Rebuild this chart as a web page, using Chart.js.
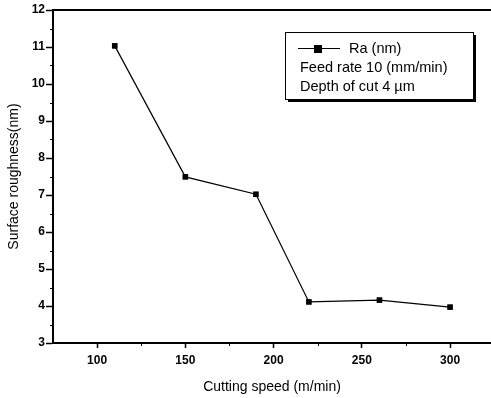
<!DOCTYPE html>
<html>
<head>
<meta charset="utf-8">
<script src="https://cdn.jsdelivr.net/npm/chart.js@4.4.0/dist/chart.umd.min.js"></script>
<style>
html,body{margin:0;padding:0;background:#fff;}
#wrap{width:491px;height:398px;}
</style>
</head>
<body>
<div id="wrap"><canvas id="c" width="491" height="398"></canvas></div>
<script>
const cuttingSpeed = [110, 150, 190, 220, 260, 300];
const roughness = [11.03, 7.49, 7.02, 4.11, 4.16, 3.97];
const xTickValues = [100, 150, 200, 250, 300];
const xMinorValues = [75, 125, 175, 225, 275, 325];
const yTickValues = [3, 4, 5, 6, 7, 8, 9, 10, 11, 12];
const seriesLabel = 'Ra (nm)';
const noteLines = ['Feed rate 10 (mm/min)', 'Depth of cut 4 \u00b5m'];

const FONT = '"Liberation Sans", Arial, sans-serif';

const frame = {
  id: 'frame',
  afterDraw(chart) {
    const {ctx, chartArea: a, scales: {x, y}} = chart;
    ctx.save();
    ctx.strokeStyle = '#000';
    ctx.lineWidth = 2;
    ctx.beginPath();
    ctx.moveTo(a.left, a.top);
    ctx.lineTo(a.right, a.top);
    ctx.stroke();
    // minor ticks
    ctx.lineWidth = 1;
    ctx.beginPath();
    xMinorValues.forEach(v => {
      const px = Math.round(x.getPixelForValue(v)) + 0.5;
      if (px < a.left + 2 || px > a.right) return;
      ctx.moveTo(px, a.bottom);
      ctx.lineTo(px, a.bottom + 3);
    });
    for (let i = 0; i < yTickValues.length - 1; i++) {
      const v = (yTickValues[i] + yTickValues[i + 1]) / 2;
      const py = Math.round(y.getPixelForValue(v)) + 0.5;
      ctx.moveTo(a.left, py);
      ctx.lineTo(a.left - 3, py);
    }
    ctx.stroke();

    // legend box
    const bx = 285, by = 32, bw = 188, bh = 67;
    ctx.fillStyle = '#000';
    ctx.fillRect(bx + 3, by + bh, bw, 3);
    ctx.fillRect(bx + bw, by + 3, 3, bh);
    ctx.fillStyle = '#fff';
    ctx.fillRect(bx, by, bw, bh);
    ctx.lineWidth = 1;
    ctx.strokeStyle = '#000';
    ctx.strokeRect(bx + 0.5, by + 0.5, bw, bh);
    // legend symbol
    ctx.beginPath();
    ctx.moveTo(298, 48.5);
    ctx.lineTo(340, 48.5);
    ctx.stroke();
    ctx.fillStyle = '#000';
    ctx.fillRect(314, 45, 8, 8);
    ctx.font = '14.5px ' + FONT;
    ctx.textBaseline = 'middle';
    ctx.textAlign = 'left';
    ctx.fillText(seriesLabel, 349, 49);
    ctx.fillText(noteLines[0], 300, 68);
    ctx.fillText(noteLines[1], 300, 87);
    ctx.restore();
  }
};

new Chart(document.getElementById('c'), {
  type: 'line',
  data: {
    datasets: [{
      label: seriesLabel,
      data: cuttingSpeed.map((v, i) => ({x: v, y: roughness[i]})),
      borderColor: '#000',
      borderWidth: 1.2,
      backgroundColor: '#000',
      pointStyle: 'rect',
      pointRadius: 4,
      pointBorderWidth: 0,
      tension: 0,
      fill: false
    }]
  },
  options: {
    responsive: false,
    animation: false,
    layout: {autoPadding: false, padding: {top: 10, left: 0, right: 0, bottom: 0}},
    plugins: {legend: {display: false}, tooltip: {enabled: false}},
    scales: {
      x: {
        type: 'linear',
        min: 75,
        max: 323.2,
        afterBuildTicks(s) { s.ticks = xTickValues.map(v => ({value: v})); },
        afterFit(s) { s.height = 55; },
        border: {display: true, color: '#000', width: 2},
        grid: {drawOnChartArea: false, drawTicks: true, tickLength: 5, tickColor: '#000', tickWidth: 1.5},
        ticks: {color: '#000', padding: 5, font: {family: FONT, size: 12, weight: 'bold'}},
        title: {display: true, text: 'Cutting speed (m/min)', color: '#000', font: {family: FONT, size: 14}, padding: {top: 8, bottom: 2}}
      },
      y: {
        type: 'linear',
        min: 3,
        max: 12,
        afterBuildTicks(s) { s.ticks = yTickValues.map(v => ({value: v})); },
        afterFit(s) { s.width = 53; },
        border: {display: true, color: '#000', width: 2},
        grid: {drawOnChartArea: false, drawTicks: true, tickLength: 7, tickColor: '#000', tickWidth: 1.5},
        ticks: {color: '#000', padding: 1, font: {family: FONT, size: 12, weight: 'bold'}},
        title: {display: true, text: 'Surface roughness(nm)', color: '#000', font: {family: FONT, size: 14}, padding: {bottom: 0, top: 6}}
      }
    }
  },
  plugins: [frame]
});
</script>
</body>
</html>
